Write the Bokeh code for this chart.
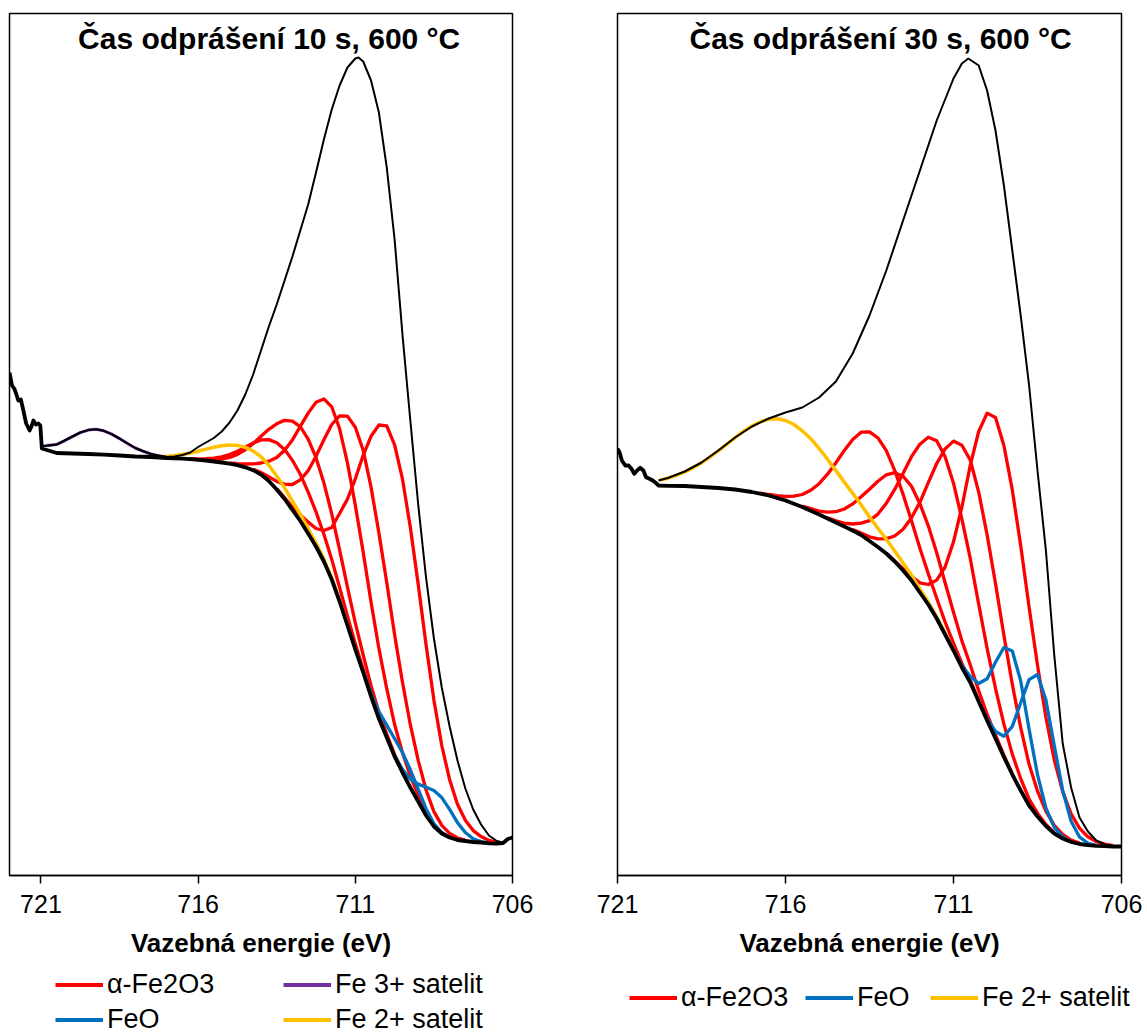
from bokeh.plotting import figure
from bokeh.models import Range1d, FixedTicker, Legend, LegendItem, Label
from bokeh.layouts import row, column
from bokeh.embed import file_html
from bokeh.resources import INLINE

# ---------------- shared ----------------
TICKS = [721, 716, 711, 706]
TICK_LABELS = {721: "721", 716: "716", 711: "711", 706: "706"}
X_TITLE = "Vazebná energie (eV)"
RED, BLUE, GOLD, PURPLE = "#FF0000", "#0070C0", "#FFC000", "#7030A0"

# ---------------- left panel (10 s) ----------------
L_TITLE = "Čas odprášení 10 s, 600 °C"
L_bg_E = [722.00, 721.92, 721.85, 721.79, 721.72, 721.64, 721.58, 721.47, 721.36, 721.29,
          721.24, 721.16, 721.08, 721.02, 720.97, 720.5, 720.0, 719.5, 719.0, 718.5, 718.0,
          717.5, 717.25, 717.0, 716.75, 716.5, 716.25, 716.0, 715.75, 715.5, 715.25, 715.0,
          714.75, 714.5, 714.25, 714.0, 713.75, 713.5, 713.25, 713.0, 712.75, 712.5, 712.25,
          712.0, 711.75, 711.5, 711.25, 711.0, 710.75, 710.5, 710.25, 710.0, 709.75, 709.5,
          709.25, 709.0, 708.75, 708.5, 708.25, 708.0, 707.75, 707.5, 707.25, 707.0, 706.75,
          706.5, 706.3, 706.15, 706.0]
L_bg_I = [503, 490, 487, 482, 475, 476, 468, 452, 445, 450, 455, 451, 452, 450, 427, 422.5,
          422, 421.5, 420.8, 420, 419, 418.5, 418, 417.5, 417.2, 416.8, 416.3, 415.7, 415,
          414, 413, 411.8, 410.3, 408.2, 405.3, 401, 394.5, 386, 376.5, 365.5, 354.5, 342,
          329, 314, 296, 274, 250, 226, 203, 179, 157, 138, 119, 103, 88, 74, 60, 49, 42,
          38, 35.5, 34.5, 33.5, 33, 32.2, 31.8, 32.5, 36.5, 38]

L_env_E = [720.97, 720.5, 720.0, 719.75, 719.5, 719.25, 719.0, 718.75, 718.5, 718.0, 717.5,
           717.0, 716.75, 716.5, 716.25, 716.0, 715.75, 715.5, 715.25, 715.0, 714.75, 714.5,
           714.25, 714.0, 713.75, 713.5, 713.25, 713.0, 712.75, 712.5, 712.25, 712.0, 711.75,
           711.5, 711.25, 711.0, 710.9, 710.75, 710.5, 710.25, 710.0, 709.75, 709.5, 709.25,
           709.0, 708.75, 708.5, 708.25, 708.0, 707.75, 707.5, 707.25, 707.0, 706.75, 706.5,
           706.25]
L_env_I = [429, 431, 439, 443, 445.4, 446.2, 444.7, 441.4, 436.9, 427.5, 421.5, 418.5, 419,
           420.5, 423, 428.5, 433, 437.5, 444, 453, 465, 481, 501, 525, 549, 571, 595, 619,
           645, 671, 703, 736, 766, 790, 808, 817, 818, 814, 795, 763, 708, 636, 541, 455,
           371, 298, 237, 188, 149, 115, 87, 66, 51, 40, 34.5, 32.5]

# common energy grid of the fitted components (left)
L_E = [717.5, 717.25, 717.0, 716.75, 716.5, 716.25, 716.0, 715.75, 715.5, 715.25, 715.0,
       714.75, 714.5, 714.25, 714.0, 713.75, 713.5, 713.25, 713.0, 712.75, 712.5, 712.25,
       712.0, 711.75, 711.5, 711.25, 711.0, 710.75, 710.5, 710.25, 710.0, 709.75, 709.5,
       709.25, 709.0, 708.75, 708.5, 708.25, 708.0, 707.75, 707.5, 707.25, 707.0, 706.75,
       706.5]
# (first grid index, intensities)
L_hem = [
    (16, [386.8, 377.8, 368.4, 360.4, 353.4, 347, 345, 348, 362, 376.4, 396.7, 420.2, 439.2,
          450.5, 449.6, 430.6, 396.5, 348.2, 291.2, 230.7, 175.4, 130, 95.8, 71.3, 55.3,
          44.9, 38.9, 35.1, 33.1]),
    (13, [406.2, 403, 398.7, 394.1, 391.4, 391, 395.7, 404.8, 419.2, 435.8, 451, 459.6,
          459.4, 448.3, 425.3, 388.4, 342.6, 293, 240.8, 193.2, 150.8, 115.2, 85.5, 63.9,
          50.1, 42.2, 37.5, 35.4]),
    (10, [412.5, 411.9, 411.5, 411.6, 412.5, 414.3, 418, 425.3, 435.6, 449.1, 462.4, 473.2,
          476.6, 468.7, 446.7, 412.6, 370.2, 323.4, 273.6, 227.1, 186.8, 151, 122.8, 99.5,
          80.3, 63.3, 50.6, 42.7]),
    (7, [415.9, 415.8, 416.4, 418.1, 421.1, 425.7, 431.9, 439.3, 446.2, 451.7, 455.2, 454.3,
         448.8, 436.3, 417.8, 392.7, 361.7, 325.7, 288.3, 252.6, 220.5, 189.8, 163.3, 141.4,
         120.8, 103.9]),
    (5, [416.8, 416.6, 416.8, 417.3, 418.7, 421, 424.3, 428.3, 432.5, 435.6, 435.9, 432.7,
         426.1, 415.1, 401.2, 383.4, 363.6, 341.2, 316.1, 288, 259.2, 231.7, 206.3, 180.8,
         157.9, 138.5]),
]
L_feo = [
    (27, [204, 181.9, 163.8, 150.4, 136.7, 123, 105.7, 86.4, 66.8, 51.9, 43, 38.3]),
    (31, [120, 106.2, 96.5, 91.4, 88.2, 84.9, 77.9, 66.2, 52.9, 43, 36.7, 34, 32.4]),
]
L_sat2 = (0, [419, 418.9, 419.1, 419.9, 421, 422.5, 424.3, 426.4, 428.2, 429.8, 430.6, 430.1,
              428.1, 424.5, 418.7, 410.3, 399.5, 387.7, 374.4, 361.3, 347, 332.5, 316.4,
              297.6, 275, 250.6])
L_sat3_E = [720.97, 720.75, 720.5, 720.25, 720.0, 719.75, 719.5, 719.25, 719.0, 718.75,
            718.5, 718.25, 718.0, 717.75, 717.5, 717.25, 717.0]
L_sat3_I = [429, 430.2, 431, 434.7, 438.9, 442.8, 445.4, 446.2, 444.7, 441.4, 436.9, 432,
            427.5, 424.1, 421.5, 419.6, 418.2]

# ---------------- right panel (30 s) ----------------
R_TITLE = "Čas odprášení 30 s, 600 °C"
R_bg_E = [721.0, 720.94, 720.87, 720.77, 720.67, 720.59, 720.50, 720.42, 720.32, 720.23,
          720.15, 720.05, 719.95, 719.83, 719.78, 719.5, 719.0, 718.5, 718.0, 717.5, 717.0,
          716.5, 716.0, 715.5, 715.0, 714.75, 714.5, 714.25, 714.0, 713.75, 713.5, 713.25,
          713.0, 712.75, 712.5, 712.25, 712.0, 711.75, 711.5, 711.25, 711.0, 710.75, 710.5,
          710.25, 710.0, 709.75, 709.5, 709.25, 709.0, 708.75, 708.5, 708.25, 708.0, 707.75,
          707.5, 707.25, 707.0, 706.75, 706.5, 706.25, 706.0]
R_bg_I = [426.7, 423.3, 415, 410, 410, 407, 401.7, 405, 407.7, 405, 398.3, 396.7, 395, 391.7,
          390, 389.7, 389.5, 388.5, 387.5, 386, 383.5, 380, 375, 368.5, 361, 357, 353, 349,
          345, 340.5, 334.5, 328.5, 322, 314, 305, 295, 283, 271, 257, 241, 225, 208, 193,
          174, 155, 137, 118.5, 101, 85, 70, 59, 49.5, 42, 37, 33.5, 31.5, 30.3, 29.7, 29.3,
          29, 29]
R_env_E = [719.78, 719.5, 719.0, 718.5, 718.0, 717.5, 717.0, 716.5, 716.25, 716.0, 715.5,
           715.0, 714.5, 714.0, 713.5, 713.0, 712.5, 712.0, 711.5, 711.0, 710.75, 710.56,
           710.25, 710.0, 709.75, 709.5, 709.25, 709.0, 708.75, 708.5, 708.25, 708.0, 707.75,
           707.5, 707.25, 707.0, 706.75, 706.5, 706.25, 706.0]
R_env_I = [395, 397.5, 404, 413, 425, 438, 449, 457, 460, 463, 468, 478, 494, 522, 560, 605,
           655, 705, 755, 797, 812, 817, 810, 785, 745, 690, 625, 560, 490, 405, 325, 220,
           132, 88, 58, 44, 35, 31, 29.5, 29.2]
R_E = [719.75, 719.5, 719.25, 719.0, 718.75, 718.5, 718.25, 718.0, 717.75, 717.5, 717.25,
       717.0, 716.75, 716.5, 716.25, 716.0, 715.75, 715.5, 715.25, 715.0, 714.75, 714.5,
       714.25, 714.0, 713.75, 713.5, 713.25, 713.0, 712.75, 712.5, 712.25, 712.0, 711.75,
       711.5, 711.25, 711.0, 710.75, 710.5, 710.25, 710.0, 709.75, 709.5, 709.25, 709.0,
       708.75, 708.5, 708.25, 708.0, 707.75, 707.5, 707.25, 707.0, 706.75, 706.5, 706.25]
R_hem = [
    (27, [322.3, 314.6, 306.7, 299.2, 292.6, 291, 295.4, 308.5, 333.7, 368.5, 410.3, 444,
          462.4, 458, 430, 385.6, 330, 268.3, 210.3, 158.2, 115.4, 83.8, 61.6, 47.4, 38.7,
          33.9, 31.3, 29.9]),
    (23, [345.9, 342.5, 338.7, 336.6, 336.9, 339.5, 346.2, 357.8, 373.2, 392.8, 412, 426.6,
          434.4, 430.3, 415.3, 383.4, 340.6, 292, 240.3, 191.2, 147.8, 111.2, 84.5, 64.4,
          50.1, 41.2, 35.5, 32.4]),
    (20, [357.8, 354.6, 352.3, 351.5, 352.4, 354.9, 361.4, 372.2, 386.1, 402.3, 418.8, 431.3,
          438.3, 434.7, 418.7, 392.3, 356.3, 316.8, 271.3, 227.1, 187.2, 151.4, 121.4, 96.9,
          76.5, 62.3, 51.1, 42.8]),
    (17, [369.4, 366.8, 364.4, 363.3, 363.8, 366.5, 371.6, 378.8, 386.2, 394.2, 400.7, 402.8,
          399.3, 389.3, 371.8, 349.7, 322.7, 292.7, 263.3, 234.6, 210.5, 184.8, 161.3, 140.4,
          120.3, 101.9]),
    (12, [382.5, 381, 379.8, 379, 379.3, 381, 385.2, 391.8, 401.3, 412.8, 425.1, 436.1, 443.3,
          443.7, 437.7, 424.8, 405.1, 381.1, 354.8, 327.3, 301.8, 277.2, 253.5, 232.3, 212,
          195.1, 175]),
]
R_feo = [
    (35, [225.3, 209.6, 199.1, 192, 196.8, 213.3, 228, 224.5, 194.5, 146.3, 100.8, 67.5, 48.1,
          38.6, 33.8]),
    (38, [174.4, 156.9, 144, 139.2, 149.1, 172.7, 195.9, 201, 175.4, 129.7, 85.1, 54.2, 38.5,
          32.2, 30.1]),
]
R_sat2 = (0, [395.4, 397.3, 400.1, 403.7, 407.7, 412.6, 418.3, 424.6, 431.2, 437.9, 444.3,
              449.5, 453.8, 456.2, 456.7, 455, 451, 444.7, 436.8, 427, 416.3, 404.9, 393.4,
              382.1, 370.8, 358.6, 347.2, 336.2, 324.5, 312.6, 300.4, 286.7, 273.5, 258.6,
              242.1, 225.7])

FONT = "Liberation Sans"
MAIN_H = 962
LEG_H = 74


def seg(grid, item):
    start, vals = item
    return grid[start:start + len(vals)], vals


def make_panel(width, b_left, b_right, x0, x1, title, title_x):
    p = figure(width=width, height=MAIN_H, x_range=Range1d(x0, x1), y_range=Range1d(0, 862),
               output_backend="svg", toolbar_location=None, y_axis_location=None,
               min_border_left=b_left, min_border_right=b_right, min_border_top=13,
               min_border_bottom=MAIN_H - 875)
    p.xgrid.visible = False
    p.ygrid.visible = False
    p.outline_line_color = "black"
    p.outline_line_width = 1.5
    p.outline_line_alpha = 1.0
    p.background_fill_color = "white"
    p.border_fill_color = "white"
    ax = p.xaxis[0]
    ax.ticker = FixedTicker(ticks=TICKS)
    ax.major_label_overrides = TICK_LABELS
    ax.major_tick_out = 8
    ax.major_tick_in = 0
    ax.minor_tick_line_color = None
    ax.axis_line_color = "black"
    ax.axis_line_width = 1.5
    ax.major_tick_line_color = "black"
    ax.major_tick_line_width = 1.5
    ax.major_label_text_font = FONT
    ax.major_label_text_font_size = "25px"
    ax.major_label_text_color = "black"
    ax.major_label_standoff = 11
    ax.axis_label = X_TITLE
    ax.axis_label_text_font = FONT
    ax.axis_label_text_font_style = "bold"
    ax.axis_label_text_font_size = "26px"
    ax.axis_label_text_color = "black"
    ax.axis_label_standoff = 12
    p.add_layout(Label(x=title_x, y=837, text=title, text_align="center",
                       text_baseline="middle", text_font=FONT, text_font_style="bold",
                       text_font_size="30px", text_color="black"))
    return p


def legend_panel(width):
    q = figure(width=width, height=LEG_H, x_range=Range1d(0, width), y_range=Range1d(0, LEG_H),
               output_backend="svg", toolbar_location=None, x_axis_location=None,
               y_axis_location=None, min_border=0, min_border_left=0, min_border_right=0,
               min_border_top=0, min_border_bottom=0)
    q.xgrid.visible = False
    q.ygrid.visible = False
    q.outline_line_color = None
    q.background_fill_color = "white"
    q.border_fill_color = "white"
    return q


def add_legend(q, entries, x, y):
    items = []
    for label, color in entries:
        # legend-only swatch line, placed outside the visible range
        r = q.line([-20, -10], [-20, -20], line_color=color, line_width=4)
        items.append(LegendItem(label=label, renderers=[r]))
    lg = Legend(items=items, location=(x, y), orientation="vertical")
    lg.label_text_font = FONT
    lg.label_text_font_size = "27px"
    lg.label_text_color = "black"
    lg.glyph_width = 48
    lg.glyph_height = 31
    lg.label_height = 31
    lg.label_standoff = 4
    lg.spacing = 4
    lg.padding = 0
    lg.margin = 0
    lg.border_line_color = None
    lg.background_fill_alpha = 0
    q.add_layout(lg)


def draw(p, items, color, width):
    return p.line(*items, line_color=color, line_width=width, line_join="round")


# ---------- left ----------
pl = make_panel(560, 9, 48, 722, 706, L_TITLE, 713.74)
for c in L_hem:
    draw(pl, seg(L_E, c), RED, 3.3)
for c in L_feo:
    draw(pl, seg(L_E, c), BLUE, 3.3)
draw(pl, seg(L_E, L_sat2), GOLD, 3.5)
draw(pl, (L_sat3_E, L_sat3_I), PURPLE, 3)
draw(pl, (L_bg_E, L_bg_I), "black", 3.8)
draw(pl, (L_env_E, L_env_I), "black", 2)

ql = legend_panel(560)
add_legend(ql, [("α-Fe2O3", RED), ("FeO", BLUE)], 55, 1.5)
add_legend(ql, [("Fe 3+ satelit", PURPLE), ("Fe 2+ satelit", GOLD)], 283, 1.5)

# ---------- right ----------
pr = make_panel(587, 57, 26, 721, 706, R_TITLE, 713.17)
for c in R_hem:
    draw(pr, seg(R_E, c), RED, 3.3)
for c in R_feo:
    draw(pr, seg(R_E, c), BLUE, 3.3)
draw(pr, seg(R_E, R_sat2), GOLD, 3.5)
draw(pr, (R_bg_E, R_bg_I), "black", 3.8)
draw(pr, (R_env_E, R_env_I), "black", 2)

qr = legend_panel(587)
add_legend(qr, [("α-Fe2O3", RED)], 69, 23.5)
add_legend(qr, [("FeO", BLUE)], 245, 23.5)
add_legend(qr, [("Fe 2+ satelit", GOLD)], 370, 23.5)

layout = column(row(pl, pr, spacing=0), row(ql, qr, spacing=0), spacing=0)
open("out.html", "w").write(file_html(layout, INLINE))
